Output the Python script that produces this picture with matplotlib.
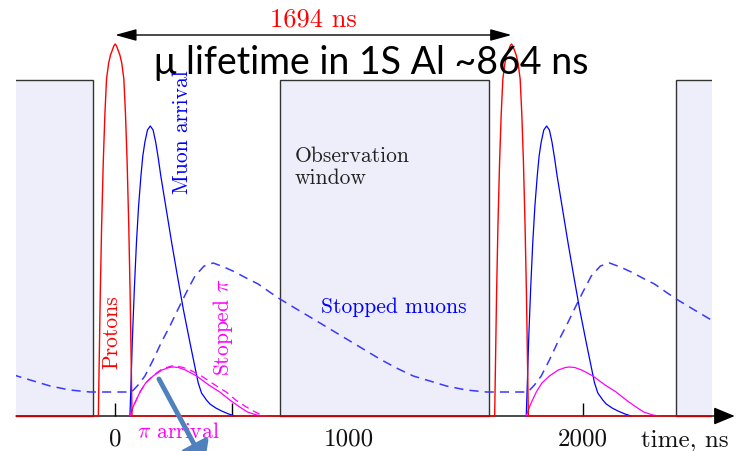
import numpy as np
import matplotlib.pyplot as plt
from matplotlib.patches import Rectangle

plt.rcParams['mathtext.fontset'] = 'cm'
plt.rcParams['font.family'] = 'cmr10'
plt.rcParams['axes.unicode_minus'] = False

# timing (ns)
period = 1694
window_start, window_end = 705, 1598
window_height = 336
tick_values = [0, 500, 1000, 1500, 2000, 2500]
label_values = [0, 1000, 2000]
label_texts = ["0", "1000", "2000"]

# proton pulse shape
proton_t = [-72, -68, -64, -58, -51, -44, -37, -28, -20, -12, -6, 0, 6, 12, 20, 28, 37, 44, 51, 58, 64, 68, 72]
proton_h = [0, 60, 120, 190, 254, 302, 337, 353, 361, 366, 370, 372, 370, 366, 361, 353, 337, 302, 254, 190, 120, 60, 0]

# muon arrival
muon_t = [63, 68, 73, 82, 91, 100, 110, 118, 127, 138, 150, 162, 173, 184, 195,
          218, 241, 266, 291, 319, 340, 355, 369, 390, 405, 430, 455, 485, 512]
muon_h = [0, 35, 74, 128, 174, 210, 240, 260, 274, 286, 290, 286, 274, 258, 240,
          207, 174, 140, 107, 74, 50, 33, 23, 16, 12, 8, 5, 2, 0]

# pion arrival
pion_t = [63, 80, 106, 130, 162, 200, 230, 248, 270, 300, 348, 400, 447, 490, 526, 565, 604, 630]
pion_h = [0, 11, 24, 33, 40, 46, 48.5, 49, 48.5, 46, 40, 31, 24, 16, 10, 4, 1, 0]

# stopped pions (first cycle only)
stop_pi_t = [63, 80, 106, 130, 162, 200, 240, 262, 290, 320, 369, 420, 476, 515, 554, 590, 626, 650]
stop_pi_h = [0, 11, 24, 33, 40.5, 47, 50, 50, 48.5, 46, 40, 32, 23.7, 16, 10, 5, 1, 0]

# stopped muons, one period starting at the onset
stop_mu_t = [70, 98, 127, 162, 198, 234, 269, 305, 341, 380, 419, 465, 512, 560, 611, 660,
             704, 775, 847, 918, 989, 1060, 1131, 1202, 1274, 1345, 1416, 1500, 1587, 1680, 1764]
stop_mu_h = [24, 31, 40, 56, 74, 90, 107, 124, 140, 150, 153, 149, 144, 138, 132, 124,
             117, 107, 97, 87, 77, 67, 57, 48, 40, 35, 30, 26, 24, 24, 24]

fig = plt.figure(figsize=(7.47, 4.52), dpi=100)
ax = fig.add_axes([16 / 747, 0, (712 - 16) / 747, 1])
ax.set_xlim(-424, 2551)
ax.set_ylim(-35, 417)
ax.axis('off')

# observation windows
for k in [-1, 0, 1]:
    ax.add_patch(Rectangle((window_start + k * period, 0), window_end - window_start, window_height,
                           facecolor='#eeeefb', edgecolor='#333333', lw=1.0, zorder=1))

# ticks, partly hidden behind the windows
ax.vlines(tick_values, 0, 13, color='black', lw=1.0, zorder=0.5)
for v, s in zip(label_values, label_texts):
    ax.text(v, -29, s, ha='center', va='baseline', fontsize=18, color='#111111')
ax.text(2435, -29, "time, ns", ha='center', va='baseline', fontsize=18, color='#111111')

# time axis
xmin, xmax = ax.get_xlim()
ax.annotate('', xy=(2648, 0), xytext=(xmin, 0), annotation_clip=False,
            arrowprops=dict(arrowstyle='-|>,head_length=0.65,head_width=0.27', mutation_scale=20,
                            color='black', lw=1.0, shrinkA=0, shrinkB=0), zorder=1.5)

# stopped muons, repeated every period
smu_t = np.concatenate([np.array(stop_mu_t) + k * period for k in (-1, 0, 1)])
smu_h = np.concatenate([stop_mu_h] * 3)
ax.plot(smu_t, smu_h, color='#3838ff', lw=1.1, ls=(0, (6, 4)), zorder=2)

for k in [0, 1]:
    ax.plot(np.array(muon_t) + k * period, muon_h, color='blue', lw=0.9, zorder=2.2)
    ax.plot(np.array(pion_t) + k * period, pion_h, color='#ff00ff', lw=0.9, zorder=2.3)
ax.plot(stop_pi_t, stop_pi_h, color='#ff00ff', lw=0.9, ls=(0, (6, 4)), zorder=2.3)

# protons, including the flat baseline between pulses
prot_t = np.concatenate([[xmin], proton_t, np.array(proton_t) + period, [xmax]])
prot_h = np.concatenate([[0], proton_h, proton_h, [0]])
ax.plot(prot_t, prot_h, color='red', lw=1.0, zorder=3)

# labels
ax.text(-14, 85, "Protons", rotation=90, color='red', fontsize=15.5, ha='center', va='center')
ax.text(285, 285, "Muon arrival", rotation=90, color='blue', fontsize=15.5, ha='center', va='center')
ax.text(460, 90, r"Stopped $\pi$", rotation=90, color='#ff00ff', fontsize=15.5, ha='center', va='center')
ax.text(1191, 110, "Stopped muons", color='blue', fontsize=15.5, ha='center', va='center')
ax.text(268, -15, r"$\pi$ arrival", color='#ff00ff', fontsize=15.5, ha='center', va='center')
ax.text(768, 249.5, "Observation\nwindow", color='#222222', fontsize=15.5, ha='left', va='center',
        linespacing=1.15)

# period arrow
ax.annotate('', xy=(period, 381), xytext=(0, 381), annotation_clip=False,
            arrowprops=dict(arrowstyle='<|-|>,head_length=0.65,head_width=0.18', mutation_scale=20,
                            color='black', lw=1.0, shrinkA=0, shrinkB=0), zorder=4)
ax.text(period / 2, 397, "1694 ns", color='red', fontsize=19, ha='center', va='center')

ax.text(1094, 354, "μ lifetime in 1S Al ~864 ns", fontsize=27, ha='center', va='center',
        family=['Lato', 'Open Sans', 'DejaVu Sans'], zorder=5)

# pointer arrow
ax.annotate('', xy=(383, -48), xytext=(187, 37), annotation_clip=False,
            arrowprops=dict(arrowstyle='-|>,head_length=0.6,head_width=0.45', mutation_scale=20,
                            color='#4f81bd', lw=3.5, shrinkA=0, shrinkB=0), zorder=6)

fig.savefig("out.png", dpi=100)
